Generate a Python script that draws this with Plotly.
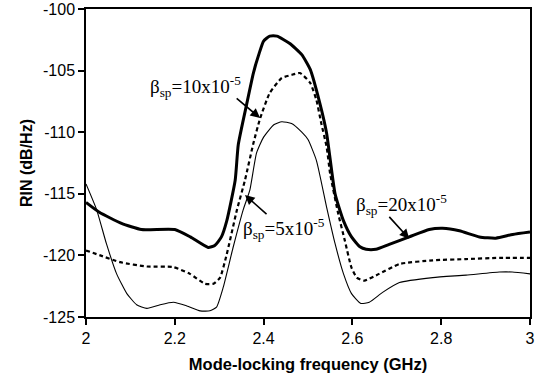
import plotly.graph_objects as go

# beta_sp = 20e-5 (thick solid)
x20 = [2.0, 2.03, 2.08, 2.125, 2.2, 2.235, 2.275, 2.29, 2.305, 2.317, 2.336, 2.343, 2.362, 2.377, 2.39, 2.40, 2.414, 2.43,
       2.459, 2.486, 2.505, 2.527, 2.542, 2.561, 2.58, 2.598, 2.617, 2.631, 2.653, 2.683, 2.728, 2.773, 2.803, 2.841,
       2.886, 2.923, 2.961, 3.0]
y20 = [-115.7, -116.5, -117.4, -117.9, -117.9, -118.5, -119.35, -119.2, -118.5, -117.2, -113.9, -111.0, -107.7, -105.2,
       -103.6, -102.6, -102.2, -102.2, -102.8, -103.7, -104.9, -107.7, -110.1, -115.0, -117.2, -118.5, -119.3, -119.5,
       -119.5, -119.1, -118.5, -117.9, -117.8, -118.0, -118.5, -118.6, -118.3, -118.1]

# beta_sp = 10e-5 (dotted)
x10 = [2.0, 2.032, 2.077, 2.137, 2.197, 2.234, 2.268, 2.287, 2.302, 2.317, 2.34, 2.358, 2.377, 2.392, 2.414, 2.441,
       2.463, 2.482, 2.505, 2.519, 2.53, 2.542, 2.55, 2.568, 2.583, 2.598, 2.61, 2.627, 2.66, 2.706, 2.781, 2.856,
       2.931, 3.0]
y10 = [-119.6, -120.0, -120.55, -120.9, -120.95, -121.5, -122.3, -122.3, -121.8, -119.9, -116.3, -113.9, -110.9,
       -108.9, -106.8, -105.6, -105.35, -105.2, -106.0, -107.4, -109.3, -111.2, -113.4, -116.6, -118.8, -121.0,
       -121.8, -122.05, -121.5, -120.7, -120.4, -120.3, -120.2, -120.2]

# beta_sp = 5e-5 (thin solid)
x5 = [2.0, 2.024, 2.046, 2.069, 2.092, 2.114, 2.137, 2.167, 2.197, 2.227, 2.257, 2.279, 2.294, 2.309, 2.331, 2.354,
      2.369, 2.384, 2.4, 2.423, 2.441, 2.463, 2.486, 2.5, 2.519, 2.542, 2.561, 2.58, 2.598, 2.619, 2.638, 2.668,
      2.706, 2.781, 2.856, 2.931, 2.96, 3.0]
y5 = [-114.2, -116.3, -119.05, -121.5, -123.1, -124.0, -124.3, -124.0, -123.8, -124.1, -124.5, -124.5, -124.2,
      -122.6, -119.4, -116.3, -114.7, -111.7, -110.4, -109.4, -109.15, -109.3, -110.0, -110.6, -112.3, -116.1,
      -119.05, -121.5, -123.1, -123.9, -123.8, -123.0, -122.2, -121.8, -121.6, -121.35, -121.35, -121.5]

x_ticks = [2, 2.2, 2.4, 2.6, 2.8, 3]
x_tick_labels = ["2", "2.2", "2.4", "2.6", "2.8", "3"]
y_ticks = [-125, -120, -115, -110, -105, -100]
y_tick_labels = ["-125", "-120", "-115", "-110", "-105", "-100"]

# label text, text centre (x, y), arrow tail (x, y), arrow head (x, y)
label_texts = ["β<sub>sp</sub>=10x10<sup>-5</sup>", "β<sub>sp</sub>=5x10<sup>-5</sup>", "β<sub>sp</sub>=20x10<sup>-5</sup>"]
label_pos = [(2.246, -106.3), (2.446, -117.8), (2.711, -115.9)]
arrow_tails = [(2.336, -107.15), (2.41, -116.75), (2.68, -116.75)]
arrow_heads = [(2.392, -108.85), (2.358, -115.1), (2.728, -118.65)]

fig = go.Figure()
fig.add_trace(go.Scatter(x=x5, y=y5, mode="lines", line=dict(color="black", width=1.1, shape="spline", smoothing=0.5)))
fig.add_trace(go.Scatter(x=x10, y=y10, mode="lines", line=dict(color="black", width=2.2, dash="4px,3px", shape="spline", smoothing=0.5)))
fig.add_trace(go.Scatter(x=x20, y=y20, mode="lines", line=dict(color="black", width=3, shape="spline", smoothing=0.5)))

serif = dict(family="Liberation Serif, Times New Roman, serif", size=19, color="black")

for txt, (tx, ty), (sx, sy), (hx, hy) in zip(label_texts, label_pos, arrow_tails, arrow_heads):
    fig.add_annotation(x=tx, y=ty, text=txt, font=serif, showarrow=False, xanchor="center", yanchor="middle")
    fig.add_annotation(x=hx, y=hy, ax=sx, ay=sy, axref="x", ayref="y", text="",
                       showarrow=True, arrowhead=2, arrowsize=1.2, arrowwidth=1.6, arrowcolor="black")

sans = "Liberation Sans, Arial, sans-serif"
axis_common = dict(showline=True, linecolor="black", linewidth=1.5, mirror=True, showgrid=False, zeroline=False,
                   ticks="outside", ticklen=6, tickwidth=1.5, tickcolor="black", automargin=False,
                   tickfont=dict(family=sans, size=16, color="black"))

fig.update_layout(
    width=536, height=386,
    margin=dict(l=86, r=6, t=9, b=69),
    paper_bgcolor="white", plot_bgcolor="white",
    showlegend=False,
    xaxis=dict(range=[2, 3], tickvals=x_ticks, ticktext=x_tick_labels,
               title=dict(text="<b>Mode-locking frequency (GHz)</b>", standoff=12,
                          font=dict(family=sans, size=16.5, color="black")),
               **axis_common),
    yaxis=dict(range=[-125, -100], tickvals=y_ticks, ticktext=y_tick_labels,
               title=dict(text="<b>RIN (dB/Hz)</b>", standoff=6,
                          font=dict(family=sans, size=16, color="black")),
               **axis_common),
)

fig.write_html("out.html")
